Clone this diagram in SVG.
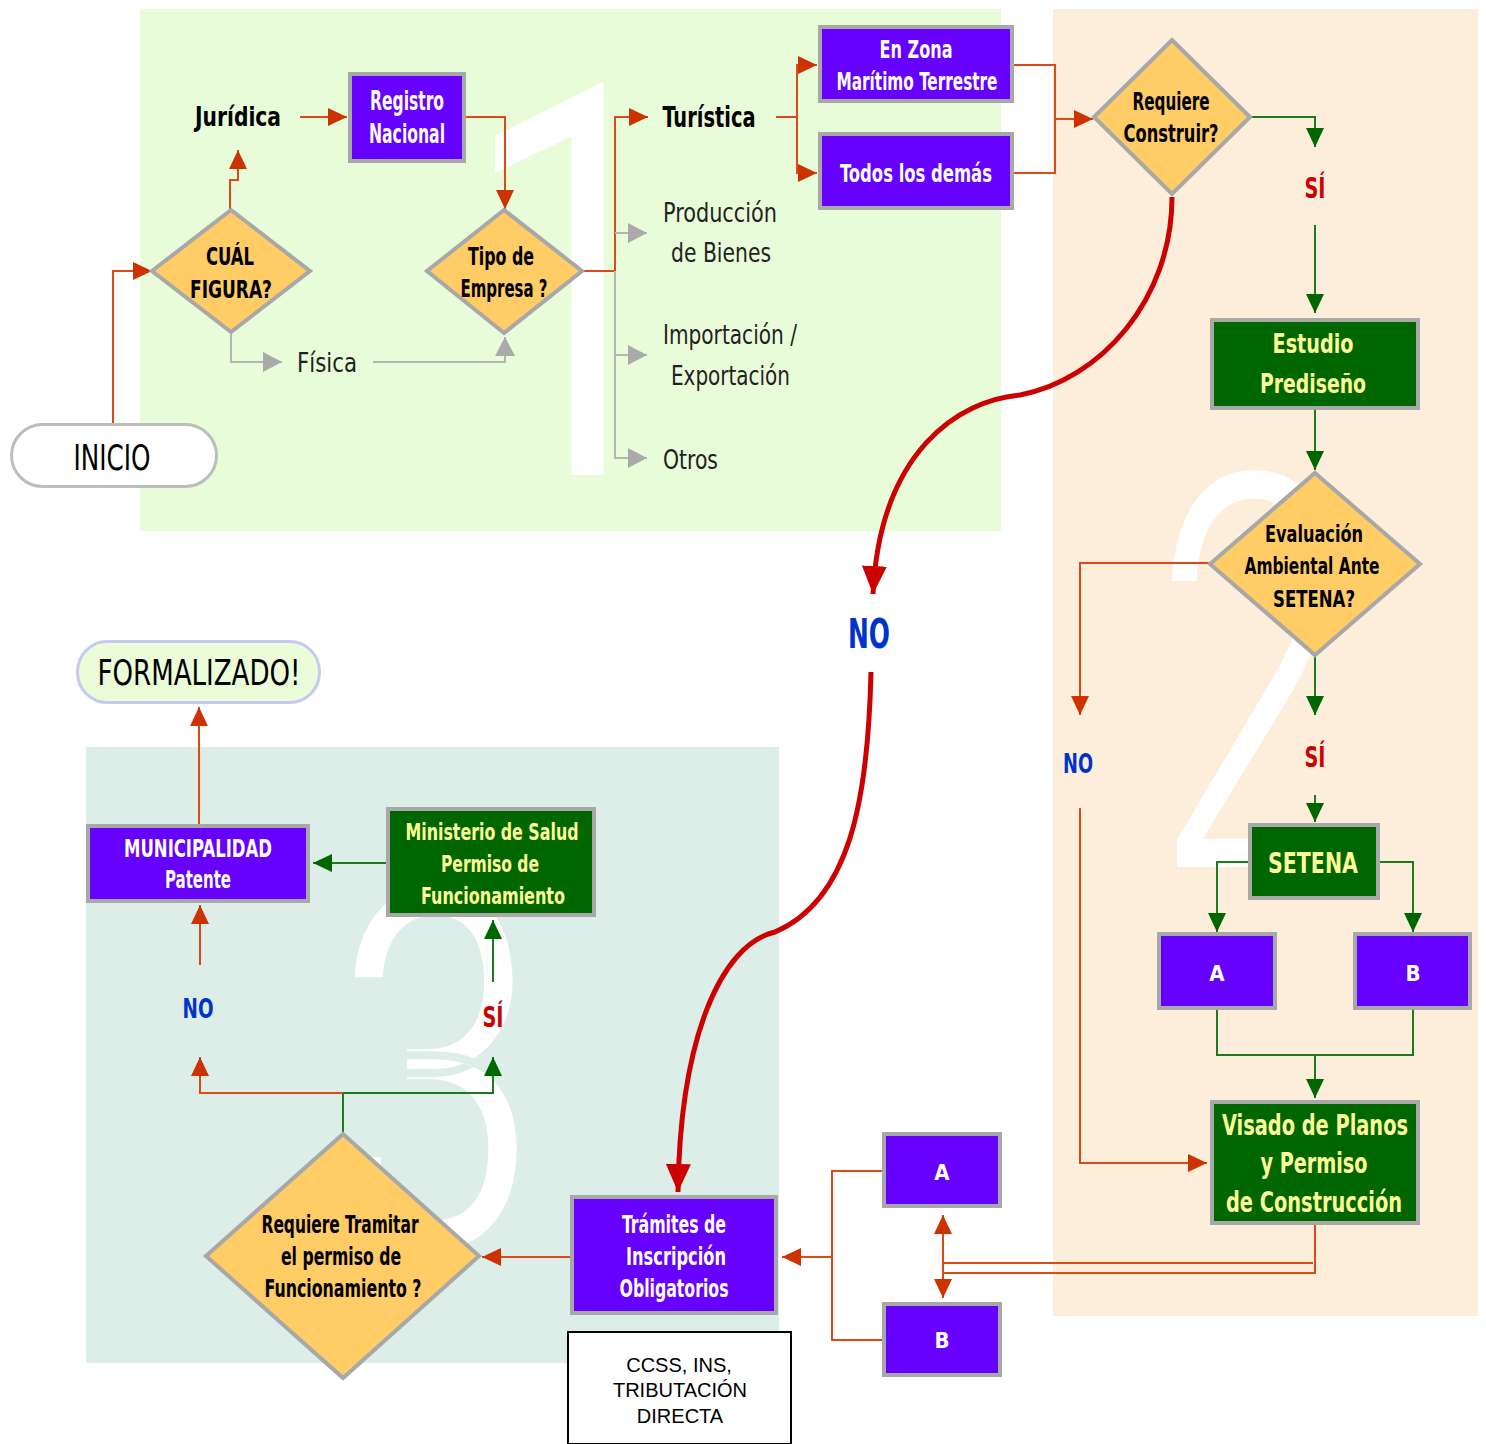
<svg xmlns="http://www.w3.org/2000/svg" width="1486" height="1444" viewBox="0 0 1486 1444">
<defs>
<style>
.t{font-family:"Liberation Sans Narrow","DejaVu Sans Condensed","Liberation Sans",sans-serif;font-weight:700;text-anchor:middle}
.r{font-family:"Liberation Sans Narrow","DejaVu Sans Condensed","Liberation Sans",sans-serif;font-weight:400}
.w{fill:#ffffff}.y{fill:#FFFF99}.k{fill:#000000}.g{fill:#222222}
.blue{fill:#0033CC}.red{fill:#CC0000}
.bp{fill:#6600FF;stroke:#A8A8A8;stroke-width:4}
.bg{fill:#006600;stroke:#A8A8A8;stroke-width:4}
.dia{fill:#FFCC66;stroke:#A8A8A8;stroke-width:4}
.co{fill:none;stroke:#DD4A1A;stroke-width:2}
.cg{fill:none;stroke:#1E7A1E;stroke-width:2}
.cy{fill:none;stroke:#B4B4B4;stroke-width:2}
.cr{fill:none;stroke:#CC0000;stroke-width:5}
.num{font-family:Roboto,"Liberation Sans",sans-serif;font-weight:400;fill:#ffffff}
</style>
<marker id="ao" markerUnits="userSpaceOnUse" markerWidth="20" markerHeight="20" refX="19" refY="9" orient="auto-start-reverse"><path d="M0,0 L19,9 L0,18 z" fill="#CC3300"/></marker>
<marker id="ag" markerUnits="userSpaceOnUse" markerWidth="20" markerHeight="20" refX="19" refY="9" orient="auto"><path d="M0,0 L19,9 L0,18 z" fill="#006600"/></marker>
<marker id="ay" markerUnits="userSpaceOnUse" markerWidth="22" markerHeight="22" refX="19" refY="10" orient="auto"><path d="M0,0 L19,10 L0,20 z" fill="#AAAAAA"/></marker>
<marker id="ar" markerUnits="userSpaceOnUse" markerWidth="30" markerHeight="30" refX="28" refY="12.5" orient="auto"><path d="M0,0 L28,12.5 L0,25 z" fill="#CC0000"/></marker>
</defs>

<g id="panels">
<rect x="140" y="9" width="861" height="522" fill="#E9FCD9"/>
<rect x="1053" y="9" width="425" height="1307" fill="#FDEEDB"/>
<rect x="86" y="747" width="693" height="616" fill="#DDEDE8"/>
<text class="num" transform="translate(457,479) scale(0.75,1)" font-size="560" stroke="#E9FCD9" stroke-width="8">1</text>
<text class="num" transform="translate(1150,874) scale(0.66,1)" font-size="570" stroke="#FDEEDB" stroke-width="14">2</text>
<text class="num" transform="translate(332,1249) scale(0.74,1)" font-size="510" stroke="#DDEDE8" stroke-width="8">3</text>
</g>

<g id="connectors">
<path class="co" d="M113,423 V271 H152" marker-end="url(#ao)"/>
<path class="co" d="M230,210 V180 H238 V150" marker-end="url(#ao)"/>
<path class="co" d="M300,117 H347" marker-end="url(#ao)"/>
<path class="co" d="M466,117 H505 V209" marker-end="url(#ao)"/>
<path class="co" d="M582,271 H615 V117 H648" marker-end="url(#ao)"/>
<path class="cy" d="M231,332 V362 H282" marker-end="url(#ay)"/>
<path class="cy" d="M373,362 H505 V337" marker-end="url(#ay)"/>
<path class="cy" d="M615,271 V458 H647" marker-end="url(#ay)"/>
<path class="cy" d="M615,233 H647" marker-end="url(#ay)"/>
<path class="cy" d="M615,355 H647" marker-end="url(#ay)"/>
<path class="co" d="M776,117 H797"/>
<path class="co" d="M797,117 V65 H817" marker-end="url(#ao)"/>
<path class="co" d="M797,117 V173 H817" marker-end="url(#ao)"/>
<path class="co" d="M1014,65 H1055 V173 H1014"/>
<path class="co" d="M1055,119 H1093" marker-end="url(#ao)"/>
<path class="cg" d="M1250,117 H1315 V147" marker-end="url(#ag)"/>
<path class="cg" d="M1315,225 V313" marker-end="url(#ag)"/>
<path class="cg" d="M1315,410 V470" marker-end="url(#ag)"/>
<path class="co" d="M1210,563 H1080 V715" marker-end="url(#ao)"/>
<path class="co" d="M1080,808 V1163 H1207" marker-end="url(#ao)"/>
<path class="cg" d="M1315,655 V715" marker-end="url(#ag)"/>
<path class="cg" d="M1315,795 V822" marker-end="url(#ag)"/>
<path class="cg" d="M1248,862 H1217 V932" marker-end="url(#ag)"/>
<path class="cg" d="M1380,862 H1413 V932" marker-end="url(#ag)"/>
<path class="cg" d="M1217,1010 V1055 H1413 V1010"/>
<path class="cg" d="M1315,1055 V1098" marker-end="url(#ag)"/>
<path class="co" d="M1315,1225 V1273 H943"/>
<path class="co" d="M1313,1263 H943"/>
<path class="co" d="M943,1215 V1298" marker-start="url(#ao)" marker-end="url(#ao)"/>
<path class="co" d="M882,1171 H832 V1340 H882"/>
<path class="co" d="M832,1257 H782" marker-end="url(#ao)"/>
<path class="co" d="M570,1257 H482" marker-end="url(#ao)"/>
<path class="cg" d="M343,1133 V1093 H493 V1057" marker-end="url(#ag)"/>
<path class="co" d="M343,1093 H200 V1057" marker-end="url(#ao)"/>
<path class="co" d="M200,965 V905" marker-end="url(#ao)"/>
<path class="cg" d="M493,982 V920" marker-end="url(#ag)"/>
<path class="cg" d="M386,863 H313" marker-end="url(#ag)"/>
<path class="co" d="M199,824 V707" marker-end="url(#ao)"/>
<path class="cr" d="M1172,197 C1172,300 1100,380 1020,395 C960,400 880,450 873,594" marker-end="url(#ar)"/>
<path class="cr" d="M871,672 C868,800 850,900 775,932 C720,945 680,1040 678,1192" marker-end="url(#ar)"/>
</g>

<g id="labels">
<text class="t k" x="238" y="126" font-size="27" textLength="86" lengthAdjust="spacingAndGlyphs">Jurídica</text>
<text class="r g" x="327" y="372" font-size="27" text-anchor="middle" textLength="60" lengthAdjust="spacingAndGlyphs">Física</text>
<text class="t k" x="709" y="127" font-size="28" textLength="93" lengthAdjust="spacingAndGlyphs">Turística</text>
<text class="r g" x="663" y="222" font-size="27" textLength="114" lengthAdjust="spacingAndGlyphs">Producción</text>
<text class="r g" x="671" y="262" font-size="27" textLength="100" lengthAdjust="spacingAndGlyphs">de Bienes</text>
<text class="r g" x="663" y="344" font-size="27" textLength="134" lengthAdjust="spacingAndGlyphs">Importación /</text>
<text class="r g" x="671" y="385" font-size="27" textLength="119" lengthAdjust="spacingAndGlyphs">Exportación</text>
<text class="r g" x="663" y="469" font-size="27" textLength="55" lengthAdjust="spacingAndGlyphs">Otros</text>
<text class="t red" x="1315" y="198" font-size="28" textLength="21" lengthAdjust="spacingAndGlyphs">SÍ</text>
<text class="t blue" x="1078" y="773" font-size="26" textLength="30" lengthAdjust="spacingAndGlyphs">NO</text>
<text class="t red" x="1315" y="767" font-size="28" textLength="21" lengthAdjust="spacingAndGlyphs">SÍ</text>
<text class="t blue" x="869" y="648" font-size="40" textLength="42" lengthAdjust="spacingAndGlyphs">NO</text>
<text class="t blue" x="198" y="1018" font-size="26" textLength="31" lengthAdjust="spacingAndGlyphs">NO</text>
<text class="t red" x="493" y="1027" font-size="28" textLength="21" lengthAdjust="spacingAndGlyphs">SÍ</text>
</g>

<g id="inicio">
<rect x="11.5" y="424.5" width="205" height="62" rx="31" fill="#ffffff" stroke="#BDBDBD" stroke-width="3"/>
<text class="r k" x="112" y="470" font-size="36" text-anchor="middle" textLength="77" lengthAdjust="spacingAndGlyphs">INICIO</text>
</g>

<g id="cual-figura">
<polygon class="dia" points="231,210 310,271 231,332 152,271"/>
<text class="t k" x="230" y="265" font-size="24" textLength="48" lengthAdjust="spacingAndGlyphs">CUÁL</text>
<text class="t k" x="231" y="298" font-size="24" textLength="82" lengthAdjust="spacingAndGlyphs">FIGURA?</text>
</g>

<g id="registro-nacional">
<rect class="bp" x="350" y="74" width="114" height="87"/>
<text class="t w" x="407" y="110" font-size="26" textLength="74" lengthAdjust="spacingAndGlyphs">Registro</text>
<text class="t w" x="407" y="143" font-size="26" textLength="76" lengthAdjust="spacingAndGlyphs">Nacional</text>
</g>

<g id="tipo-empresa">
<polygon class="dia" points="504,210 582,271 504,333 427,271"/>
<text class="t k" x="501" y="265" font-size="24" textLength="66" lengthAdjust="spacingAndGlyphs">Tipo de</text>
<text class="t k" x="504" y="297" font-size="24" textLength="87" lengthAdjust="spacingAndGlyphs">Empresa ?</text>
</g>

<g id="zona-maritimo">
<rect class="bp" x="820" y="27" width="192" height="74"/>
<text class="t w" x="916" y="58" font-size="24" textLength="73" lengthAdjust="spacingAndGlyphs">En Zona</text>
<text class="t w" x="917" y="90" font-size="24" textLength="161" lengthAdjust="spacingAndGlyphs">Marítimo Terrestre</text>
</g>

<g id="todos-demas">
<rect class="bp" x="820" y="134" width="192" height="74"/>
<text class="t w" x="916" y="182" font-size="24" textLength="152" lengthAdjust="spacingAndGlyphs">Todos los demás</text>
</g>

<g id="requiere-construir">
<polygon class="dia" points="1172,40 1250,117 1172,194 1094,117"/>
<text class="t k" x="1171" y="110" font-size="24" textLength="77" lengthAdjust="spacingAndGlyphs">Requiere</text>
<text class="t k" x="1171" y="142" font-size="24" textLength="95" lengthAdjust="spacingAndGlyphs">Construir?</text>
</g>

<g id="estudio-prediseno">
<rect class="bg" x="1212" y="320" width="206" height="88"/>
<text class="t y" x="1313" y="353" font-size="27" textLength="81" lengthAdjust="spacingAndGlyphs">Estudio</text>
<text class="t y" x="1313" y="393" font-size="27" textLength="106" lengthAdjust="spacingAndGlyphs">Prediseño</text>
</g>

<g id="evaluacion-ambiental">
<polygon class="dia" points="1315,473 1420,564 1315,655 1210,564"/>
<text class="t k" x="1314" y="542" font-size="23" textLength="98" lengthAdjust="spacingAndGlyphs">Evaluación</text>
<text class="t k" x="1312" y="574" font-size="23" textLength="135" lengthAdjust="spacingAndGlyphs">Ambiental Ante</text>
<text class="t k" x="1314" y="607" font-size="23" textLength="82" lengthAdjust="spacingAndGlyphs">SETENA?</text>
</g>

<g id="setena">
<rect class="bg" x="1250" y="825" width="128" height="73"/>
<text class="t y" x="1313" y="873" font-size="28" textLength="90" lengthAdjust="spacingAndGlyphs">SETENA</text>
</g>

<g id="setena-a">
<rect class="bp" x="1159" y="934" width="116" height="74"/>
<text class="t w" x="1217" y="981" font-size="22">A</text>
</g>

<g id="setena-b">
<rect class="bp" x="1355" y="934" width="115" height="74"/>
<text class="t w" x="1413" y="981" font-size="22">B</text>
</g>

<g id="visado-planos">
<rect class="bg" x="1212" y="1102" width="206" height="121"/>
<text class="t y" x="1315" y="1135" font-size="28" textLength="186" lengthAdjust="spacingAndGlyphs">Visado de Planos</text>
<text class="t y" x="1314" y="1173" font-size="28" textLength="107" lengthAdjust="spacingAndGlyphs">y Permiso</text>
<text class="t y" x="1314" y="1212" font-size="28" textLength="176" lengthAdjust="spacingAndGlyphs">de Construcción</text>
</g>

<g id="tramite-a">
<rect class="bp" x="884" y="1134" width="116" height="72"/>
<text class="t w" x="942" y="1180" font-size="22">A</text>
</g>

<g id="tramite-b">
<rect class="bp" x="884" y="1304" width="116" height="71"/>
<text class="t w" x="942" y="1348" font-size="22">B</text>
</g>

<g id="tramites-inscripcion">
<rect class="bp" x="572" y="1197" width="204" height="116"/>
<text class="t w" x="674" y="1233" font-size="25" textLength="104" lengthAdjust="spacingAndGlyphs">Trámites de</text>
<text class="t w" x="676" y="1265" font-size="25" textLength="100" lengthAdjust="spacingAndGlyphs">Inscripción</text>
<text class="t w" x="674" y="1297" font-size="25" textLength="109" lengthAdjust="spacingAndGlyphs">Obligatorios</text>
</g>

<g id="ccss-nota">
<rect x="568" y="1332" width="223" height="112" fill="#ffffff" stroke="#000000" stroke-width="2"/>
<text x="679" y="1372" font-family="Liberation Sans,Arial,sans-serif" font-size="20" text-anchor="middle" fill="#000">CCSS, INS,</text>
<text x="680" y="1397" font-family="Liberation Sans,Arial,sans-serif" font-size="20" text-anchor="middle" fill="#000">TRIBUTACIÓN</text>
<text x="680" y="1423" font-family="Liberation Sans,Arial,sans-serif" font-size="20" text-anchor="middle" fill="#000">DIRECTA</text>
</g>

<g id="requiere-tramitar">
<polygon class="dia" points="343,1134 479,1256 343,1378 206,1256"/>
<text class="t k" x="340" y="1233" font-size="24" textLength="157" lengthAdjust="spacingAndGlyphs">Requiere Tramitar</text>
<text class="t k" x="341" y="1265" font-size="24" textLength="120" lengthAdjust="spacingAndGlyphs">el permiso de</text>
<text class="t k" x="343" y="1297" font-size="24" textLength="157" lengthAdjust="spacingAndGlyphs">Funcionamiento ?</text>
</g>

<g id="municipalidad">
<rect class="bp" x="88" y="826" width="220" height="75"/>
<text class="t w" x="198" y="857" font-size="24" textLength="148" lengthAdjust="spacingAndGlyphs">MUNICIPALIDAD</text>
<text class="t w" x="198" y="888" font-size="24" textLength="66" lengthAdjust="spacingAndGlyphs">Patente</text>
</g>

<g id="ministerio-salud">
<rect class="bg" x="388" y="809" width="206" height="106"/>
<text class="t y" x="492" y="840" font-size="23" textLength="173" lengthAdjust="spacingAndGlyphs">Ministerio de Salud</text>
<text class="t y" x="490" y="872" font-size="23" textLength="98" lengthAdjust="spacingAndGlyphs">Permiso de</text>
<text class="t y" x="493" y="904" font-size="23" textLength="144" lengthAdjust="spacingAndGlyphs">Funcionamiento</text>
</g>

<g id="formalizado">
<rect x="77.5" y="641.5" width="242" height="61" rx="30" fill="#EAFCD8" stroke="#C8C8F4" stroke-width="3"/>
<text class="r k" x="199" y="685" font-size="36" text-anchor="middle" textLength="203" lengthAdjust="spacingAndGlyphs">FORMALIZADO!</text>
</g>
</svg>
